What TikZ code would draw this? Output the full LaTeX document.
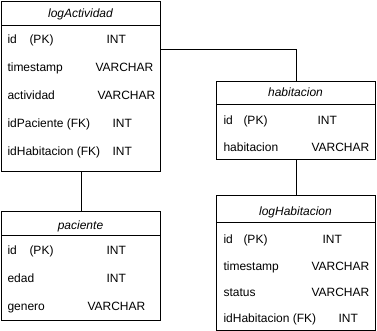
\documentclass[tikz,border=0pt]{standalone}
\usepackage{fontspec}
\setmainfont{Liberation Sans}
\begin{document}
\begin{tikzpicture}[x=1pt,y=-1pt,line width=1pt,
  tbl/.style={draw,rectangle,inner sep=0,anchor=north west},
  ttl/.style={font=\fontsize{12}{14}\selectfont\itshape,inner sep=0,anchor=base},
  fld/.style={font=\fontsize{12}{14}\selectfont,inner sep=0,anchor=base west}]
\useasboundingbox (0,0) rectangle (377,331);

% table frames
\node[tbl,minimum width=159pt,minimum height=170pt] (la) at (1,1) {};
\node[tbl,minimum width=159pt,minimum height=109pt] (pac) at (1,211) {};
\node[tbl,minimum width=159pt,minimum height=78pt] (hab) at (216,81) {};
\node[tbl,minimum width=159pt,minimum height=135pt] (lh) at (216,195) {};

% header separators
\draw ([yshift=-25pt]la.north west) -- ([yshift=-25pt]la.north east);
\draw ([yshift=-24pt]pac.north west) -- ([yshift=-24pt]pac.north east);
\draw ([yshift=-24pt]hab.north west) -- ([yshift=-24pt]hab.north east);
\draw ([yshift=-27pt]lh.north west) -- ([yshift=-27pt]lh.north east);

% titles
\node[ttl] (laT) at (80.5,18) {logActividad};
\node[ttl] (pacT) at (80.5,229) {paciente};
\node[ttl] (habT) at (295.5,97) {habitacion};
\node[ttl] (lhT) at (295.5,215) {logHabitacion};

% logActividad fields
\node[fld] (la1a) at (7,44) {id};
\node[fld] (la1b) at (29,44) {(PK)};
\node[fld] (la1c) at (106,44) {INT};
\node[fld] (la2a) at (7,72) {timestamp};
\node[fld] (la2c) at (95,72) {VARCHAR};
\node[fld] (la3a) at (7,100) {actividad};
\node[fld] (la3c) at (97,100) {VARCHAR};
\node[fld] (la4a) at (7,128) {idPaciente (FK)};
\node[fld] (la4c) at (112,128) {INT};
\node[fld] (la5a) at (7,156) {idHabitacion (FK)};
\node[fld] (la5c) at (112,156) {INT};

% paciente fields
\node[fld] (pac1a) at (7,254) {id};
\node[fld] (pac1b) at (29,254) {(PK)};
\node[fld] (pac1c) at (106,254) {INT};
\node[fld] (pac2a) at (7,282) {edad};
\node[fld] (pac2c) at (106,282) {INT};
\node[fld] (pac3a) at (7,310) {genero};
\node[fld] (pac3c) at (87,310) {VARCHAR};

% habitacion fields
\node[fld] (hab1a) at (223,125) {id};
\node[fld] (hab1b) at (243,125) {(PK)};
\node[fld] (hab1c) at (317,125) {INT};
\node[fld] (hab2a) at (223,152) {habitacion};
\node[fld] (hab2c) at (311,152) {VARCHAR};

% logHabitacion fields
\node[fld] (lh1a) at (223,243) {id};
\node[fld] (lh1b) at (243,243) {(PK)};
\node[fld] (lh1c) at (322,243) {INT};
\node[fld] (lh2a) at (223,270) {timestamp};
\node[fld] (lh2c) at (311,270) {VARCHAR};
\node[fld] (lh3a) at (223,296) {status};
\node[fld] (lh3c) at (311,296) {VARCHAR};
\node[fld] (lh4a) at (223,322) {idHabitacion (FK)};
\node[fld] (lh4c) at (338,322) {INT};

% relations
\coordinate (laport) at ([yshift=-49pt]la.north east);
\draw (laport) -| (hab.north);
\draw (hab.south) -- (lh.north);
\draw (la.south) -- (pac.north);
\end{tikzpicture}
\end{document}
